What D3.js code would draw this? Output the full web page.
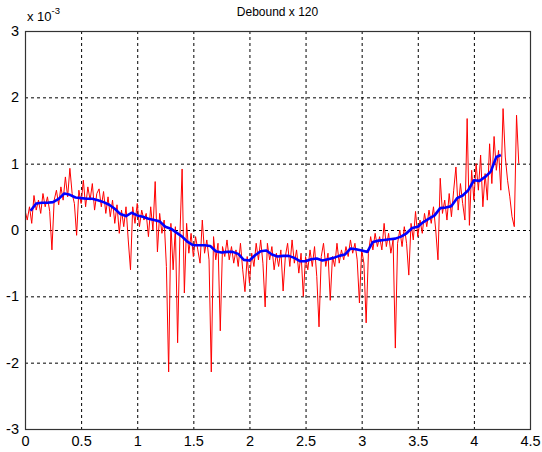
<!DOCTYPE html>
<html lang="en">
<head>
<meta charset="UTF-8">
<title>Debound x 120</title>
<script src="https://d3js.org/d3.v7.min.js"></script>
<style>
    body { margin: 0; background: #fff; font-family: Arial, "Liberation Sans", sans-serif; }
    svg { display: block; }
    .tick text { font-size: 14.5px; fill: #000; }
    .grid line { stroke: #000; stroke-dasharray: 3,3; stroke-width: 1; }
</style>
</head>
<body>
<svg width="542" height="452"></svg>
<script>
    // tick labels
    const xTicks = [0, 0.5, 1, 1.5, 2, 2.5, 3, 3.5, 4, 4.5];
    const yTicks = [-3, -2, -1, 0, 1, 2, 3];

    // raw signal (x 1e-3), one sample every 0.02 starting at 0
    const rawStep = 0.02;
    const rawValues = [
        0.30, 0.15, 0.35, 0.10, 0.52, 0.30, 0.45, 0.25, 0.55, 0.35,
        0.50, 0.28, -0.30, 0.45, 0.60, 0.38, 0.65, 0.45, 0.80, 0.50,
        0.93, 0.55, 0.40, -0.08, 0.60, 0.40, 0.75, 0.35, 0.65, 0.45,
        0.70, 0.30, 0.55, 0.62, 0.35, 0.58, 0.25, 0.50, 0.20, 0.45,
        0.10, 0.38, -0.05, 0.30, 0.05, 0.35, -0.15, -0.60, 0.35, 0.10,
        0.40, 0.05, 0.30, 0.15, 0.25, -0.10, 0.35, 0.00, 0.73, -0.33,
        0.25, -0.05, 0.15, -0.55, -2.14, 0.10, -0.60, 0.05, -1.70, -0.10,
        0.92, -0.95, 0.10, -0.35, -0.05, -0.40, -0.10, -0.30, -0.50, 0.15,
        -0.35, -0.15, -0.45, -2.14, -0.10, -0.45, -0.20, -1.52, -0.25, -0.40,
        -0.15, -0.45, -0.25, -0.50, -0.30, -0.55, -0.20, -0.60, -0.93, -0.40,
        -0.80, -0.35, -0.55, -0.20, -0.45, -0.15, -0.50, -1.16, -0.20, -0.45,
        -0.25, -0.60, -0.35, -0.55, -0.30, -0.92, -0.40, -0.20, -0.55, -0.15,
        -0.50, -0.30, -0.65, -0.35, -1.00, -0.40, -0.60, -0.30, -0.55, -0.25,
        -0.70, -1.46, -0.40, -0.20, -0.55, -0.35, -1.06, -0.40, -0.55, -0.20,
        -0.50, -0.30, -0.45, -0.25, -0.40, -0.15, -0.35, -0.20, -0.45, -1.10,
        -0.30, -0.50, -1.40, -0.35, -0.10, -0.30, -0.05, -0.25, -0.10, -0.30,
        0.10, -0.25, -0.05, -0.35, -0.15, -1.78, -0.20, 0.00, -0.25, 0.05,
        -0.20, -0.68, 0.10, -0.15, 0.28, -0.10, 0.15, -0.05, 0.25, 0.05,
        0.30, 0.10, 0.35, 0.00, -0.45, 0.78, 0.25, 0.45, 0.15, 0.55,
        0.20, 0.60, 0.95, 0.30, 0.70, 0.40, 0.15, 1.68, 0.07, 0.90,
        0.45, 1.00, 0.60, 1.13, 0.35, 0.85, 0.45, 1.30, 0.70, 1.41,
        0.90, 1.20, 0.60, 1.83, 1.10, 0.75, 0.50, 0.20, 0.05, 1.73,
        1.00
    ];

    // smoothed signal (x 1e-3)
    const smoothTimes = [
        0.05, 0.10, 0.15, 0.20, 0.25, 0.30, 0.35, 0.40, 0.45, 0.50,
        0.55, 0.60, 0.65, 0.70, 0.75, 0.80, 0.85, 0.90, 0.95, 1.00,
        1.05, 1.10, 1.15, 1.20, 1.25, 1.30, 1.35, 1.40, 1.45, 1.50,
        1.55, 1.60, 1.65, 1.70, 1.75, 1.80, 1.85, 1.90, 1.95, 2.00,
        2.05, 2.10, 2.15, 2.20, 2.25, 2.30, 2.35, 2.40, 2.45, 2.50,
        2.55, 2.60, 2.65, 2.70, 2.75, 2.80, 2.85, 2.90, 2.95, 3.00,
        3.05, 3.10, 3.15, 3.20, 3.25, 3.30, 3.35, 3.40, 3.45, 3.50,
        3.55, 3.60, 3.65, 3.70, 3.75, 3.80, 3.85, 3.90, 3.95, 4.00,
        4.05, 4.10, 4.15, 4.20, 4.24
    ];
    const smoothValues = [
        0.29, 0.40, 0.41, 0.41, 0.42, 0.47, 0.55, 0.53, 0.49, 0.48,
        0.47, 0.47, 0.45, 0.42, 0.38, 0.32, 0.24, 0.21, 0.26, 0.22,
        0.20, 0.17, 0.15, 0.13, 0.05, 0.02, -0.04, -0.10, -0.18, -0.23,
        -0.23, -0.23, -0.24, -0.32, -0.34, -0.33, -0.33, -0.36, -0.45, -0.46,
        -0.38, -0.32, -0.31, -0.37, -0.40, -0.39, -0.39, -0.42, -0.47, -0.47,
        -0.44, -0.43, -0.46, -0.44, -0.42, -0.39, -0.37, -0.28, -0.29, -0.31,
        -0.33, -0.18, -0.16, -0.15, -0.14, -0.13, -0.10, -0.05, 0.03, 0.05,
        0.12, 0.17, 0.22, 0.33, 0.34, 0.36, 0.48, 0.52, 0.60, 0.75,
        0.74, 0.80, 0.88, 1.10, 1.13
    ];

    const svg = d3.select("svg"),
        margin = { top: 31, right: 12, bottom: 23, left: 25 },
        width = 542 - margin.left - margin.right,
        height = 452 - margin.top - margin.bottom;

    const x = d3.scaleLinear().domain([0, 4.5]).range([0, width]);
    const y = d3.scaleLinear().domain([-3, 3]).range([height, 0]);

    const g = svg.append("g").attr("transform", `translate(${margin.left},${margin.top})`);

    // dashed grid
    g.append("g").attr("class", "grid")
        .selectAll("line")
        .data(xTicks.slice(1, -1))
        .enter().append("line")
        .attr("x1", d => x(d) + 0.5).attr("x2", d => x(d) + 0.5)
        .attr("y1", 0).attr("y2", height);

    g.append("g").attr("class", "grid")
        .selectAll("line")
        .data(yTicks.slice(1, -1))
        .enter().append("line")
        .attr("y1", d => y(d) + 0.5).attr("y2", d => y(d) + 0.5)
        .attr("x1", 0).attr("x2", width);

    g.append("defs").append("clipPath").attr("id", "clip")
        .append("rect").attr("width", width).attr("height", height);

    const line = d3.line().x(d => x(d[0])).y(d => y(d[1]));

    const raw = rawValues.map((v, i) => [i * rawStep, v]);
    const smooth = smoothTimes.map((t, i) => [t, smoothValues[i]]);

    g.append("path")
        .datum(raw)
        .attr("clip-path", "url(#clip)")
        .attr("fill", "none")
        .attr("stroke", "#ff0000")
        .attr("stroke-width", 1)
        .attr("d", line);

    g.append("path")
        .datum(smooth)
        .attr("fill", "none")
        .attr("stroke", "#0000ff")
        .attr("stroke-width", 2.6)
        .attr("stroke-linejoin", "round")
        .attr("d", line);

    // axes (plain hyphen minus like the original)
    const fmt = d => String(d);
    const xAxis = g.append("g")
        .attr("transform", `translate(0,${height})`)
        .call(d3.axisBottom(x).tickValues(xTicks).tickSize(0).tickPadding(7).tickFormat(fmt));
    const yAxis = g.append("g")
        .call(d3.axisLeft(y).tickValues(yTicks).tickSize(0).tickPadding(6).tickFormat(fmt));
    [xAxis, yAxis].forEach(a => {
        a.select(".domain").remove();
        a.attr("font-family", "Arial, 'Liberation Sans', sans-serif");
    });

    // frame
    g.append("rect")
        .attr("x", 0.5).attr("y", 0.5)
        .attr("width", width).attr("height", height)
        .attr("fill", "none")
        .attr("stroke", "#333")
        .attr("stroke-width", 1.2);

    // exponent label
    const ex = svg.append("text")
        .attr("x", margin.left + 2)
        .attr("y", 21)
        .attr("font-size", 13)
        .text("x 10");
    ex.append("tspan")
        .attr("dy", -7)
        .attr("font-size", 9.5)
        .text("-3");

    svg.append("text")
        .attr("x", margin.left + width / 2)
        .attr("y", 16)
        .attr("text-anchor", "middle")
        .attr("font-size", 12)
        .text("Debound x 120");
</script>
</body>
</html>
